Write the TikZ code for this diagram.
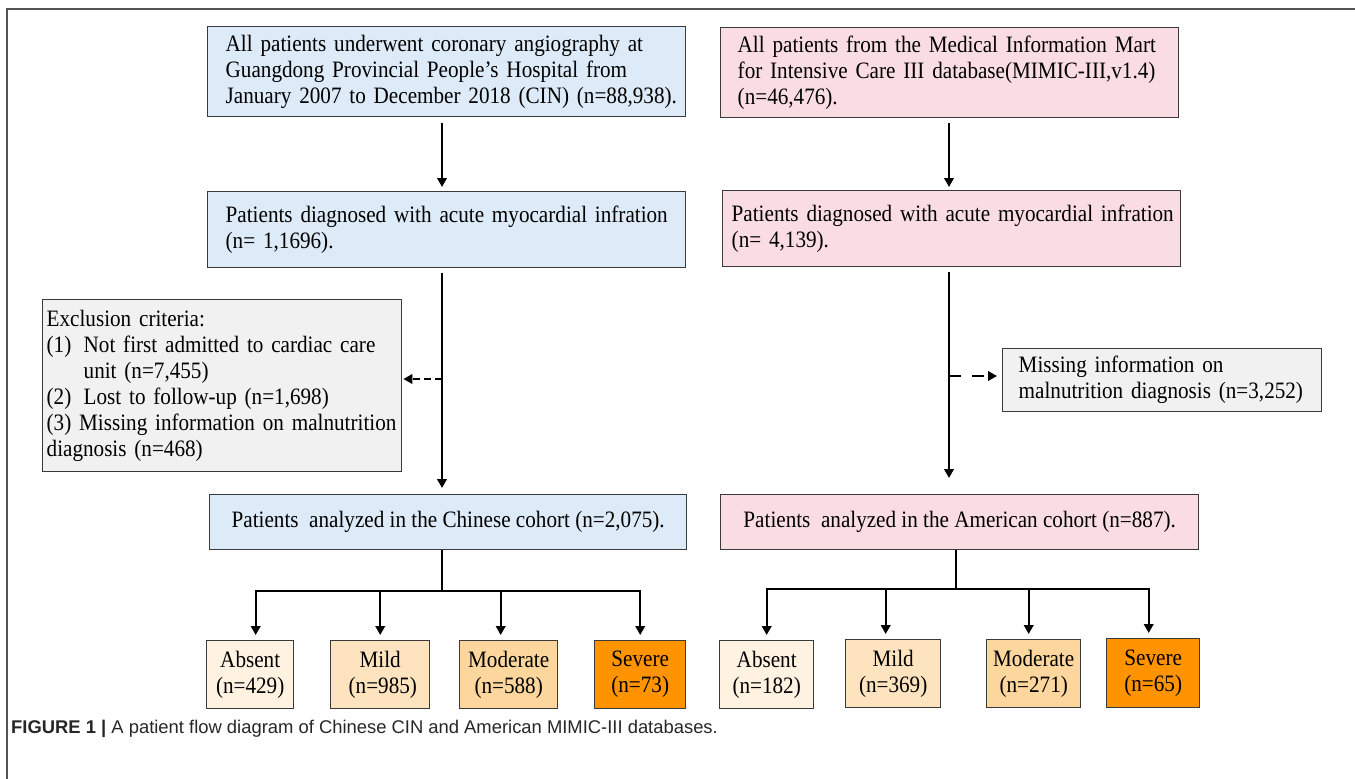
\documentclass[tikz,border=0pt]{standalone}
\usepackage{fontspec}
\setmainfont{Liberation Serif}[FakeStretch=0.9]
\newfontfamily\capfont{Liberation Sans}
\usetikzlibrary{arrows.meta}
\definecolor{bluefill}{HTML}{DDEAF7}
\definecolor{pinkfill}{HTML}{FADDE3}
\definecolor{grayfill}{HTML}{F1F1F1}
\definecolor{absentfill}{HTML}{FFF2E1}
\definecolor{mildfill}{HTML}{FDE4BF}
\definecolor{modfill}{HTML}{FCD69C}
\definecolor{sevfill}{HTML}{FF9300}
\definecolor{boxline}{HTML}{3A3A3A}
\definecolor{framecol}{HTML}{555555}
\begin{document}
\begin{tikzpicture}[x=1pt,y=-1pt,
 boxbase/.style={draw=boxline, line width=1.4pt, inner ysep=0pt, font=\fontsize{23.5}{26}\selectfont, anchor=north west},
 leftbox/.style={boxbase, align=left},
 centbox/.style={boxbase, align=center, inner xsep=0pt},
 conn/.style={line width=2.2pt, line join=miter, -{Triangle[length=9pt,width=9.5pt]}},
 dconnL/.style={conn, dash pattern=on 7pt off 4pt},
 dconnR/.style={conn, dash pattern=on 12pt off 11pt},
 plainline/.style={line width=2.2pt}
]
\useasboundingbox (0,0) rectangle (1355,779);
\draw[framecol, line width=2pt] (7,779) -- (7,9) -- (1355,9);

% left column
\node[leftbox, fill=bluefill, inner xsep=18pt, text width=442pt, minimum height=90pt] (L1) at (207,26)
 {\mbox{All patients underwent coronary angiography at}\\ \mbox{Guangdong Provincial People’s Hospital from}\\ \mbox{January 2007 to December 2018 (CIN) (n=88,938).}};
\node[leftbox, fill=bluefill, inner xsep=18pt, text width=442pt, minimum height=76pt] (L2) at (207,191)
 {\mbox{Patients diagnosed with acute myocardial infration}\\(n= 1,1696).};
\node[leftbox, fill=grayfill, inner xsep=4pt, text width=351pt, minimum height=172pt] (Ex) at (42,299)
 {Exclusion criteria:\\
  \makebox[37pt][l]{(1)}Not first admitted to cardiac care\\
  \hspace*{37pt}unit (n=7,455)\\
  \makebox[37pt][l]{(2)}Lost to follow-up (n=1,698)\\
  \mbox{(3) Missing information on malnutrition}\\
  diagnosis (n=468)};
\node[centbox, fill=bluefill, minimum width=477pt, minimum height=55pt] (LC) at (209,494)
 {Patients\ \ analyzed in the Chinese cohort (n=2,075).};

\node[centbox, fill=absentfill, minimum width=87pt, minimum height=68pt] (La) at (206,640) {Absent\\(n=429)};
\node[centbox, fill=mildfill, minimum width=99pt, minimum height=68pt] (Lb) at (330,640) {Mild\\\ (n=985)};
\node[centbox, fill=modfill, minimum width=98pt, minimum height=68pt] (Lc) at (459,640) {Moderate\\(n=588)};
\node[centbox, fill=sevfill, minimum width=91pt, minimum height=68pt] (Ld) at (594,640) {Severe\\(n=73)};

% right column
\node[leftbox, fill=pinkfill, inner xsep=17pt, text width=424pt, minimum height=90pt] (R1) at (720,27)
 {\mbox{All patients from the Medical Information Mart}\\ \mbox{for Intensive Care III database(MIMIC-III,v1.4)}\\(n=46,476).};
\node[leftbox, fill=pinkfill, inner xsep=9pt, text width=440pt, minimum height=76pt] (R2) at (722,190)
 {\mbox{Patients diagnosed with acute myocardial infration}\\(n= 4,139).};
\node[leftbox, fill=grayfill, inner xsep=16pt, text width=287pt, minimum height=63pt] (Mi) at (1002,348)
 {Missing information on\\ \mbox{malnutrition diagnosis (n=3,252)}};
\node[centbox, fill=pinkfill, minimum width=478pt, minimum height=55pt] (RC) at (720,494)
 {Patients\ \ analyzed in the American cohort (n=887).};

\node[centbox, fill=absentfill, minimum width=94pt, minimum height=68pt] (Ra) at (719,640) {Absent\\(n=182)};
\node[centbox, fill=mildfill, minimum width=95pt, minimum height=68pt] (Rb) at (845,639) {Mild\\(n=369)};
\node[centbox, fill=modfill, minimum width=94pt, minimum height=68pt] (Rc) at (986,639) {Moderate\\(n=271)};
\node[centbox, fill=sevfill, minimum width=93pt, minimum height=69pt] (Rd) at (1106,638) {Severe\\(n=65)};

% caption
\node[anchor=base west, inner sep=0pt, font=\capfont\fontsize{18.4}{22}\selectfont, text=black!85] (cap) at (11,733)
 {\textbf{FIGURE 1 |} A patient flow diagram of Chinese CIN and American MIMIC-III databases.};

% connectors left
\coordinate (cL) at (442,0);
\draw[conn, shorten <=6pt, shorten >=4pt] (L1.south -| cL) -- (L2.north -| cL);
\draw[conn, shorten <=5pt, shorten >=6pt] (L2.south -| cL) -- (LC.north -| cL);
\coordinate (jL) at (442,379);
\draw[dconnL, shorten >=1pt] (jL) -- (jL -| Ex.east);
\coordinate (bL) at (442,591);
\draw[plainline] (LC.south -| bL) -- (bL);
\draw[conn, shorten >=5pt] (bL) -| ([xshift=5.5pt]La.north);
\draw[conn, shorten >=5pt] (bL) -| (Lb.north);
\draw[conn, shorten >=5pt] (bL) -| ([xshift=-8pt]Lc.north);
\draw[conn, shorten >=5pt] (bL) -| (Ld.north);

% connectors right
\coordinate (cR) at (949,0);
\draw[conn, shorten <=5pt, shorten >=3pt] (R1.south -| cR) -- (R2.north -| cR);
\draw[conn, shorten <=5pt, shorten >=16pt] (R2.south -| cR) -- (RC.north -| cR);
\coordinate (jR) at (949,376);
\draw[dconnR, shorten >=5pt] (jR) -- (jR -| Mi.west);
\coordinate (bR) at (956,589);
\draw[plainline] (RC.south -| bR) -- (bR);
\draw[conn, shorten >=5pt] (bR) -| (Ra.north);
\draw[conn, shorten >=5pt] (bR) -| ([xshift=-7.5pt]Rb.north);
\draw[conn, shorten >=5pt] (bR) -| ([xshift=-5pt]Rc.north);
\draw[conn, shorten >=5pt] (bR) -| ([xshift=-4.5pt]Rd.north);
\end{tikzpicture}
\end{document}
